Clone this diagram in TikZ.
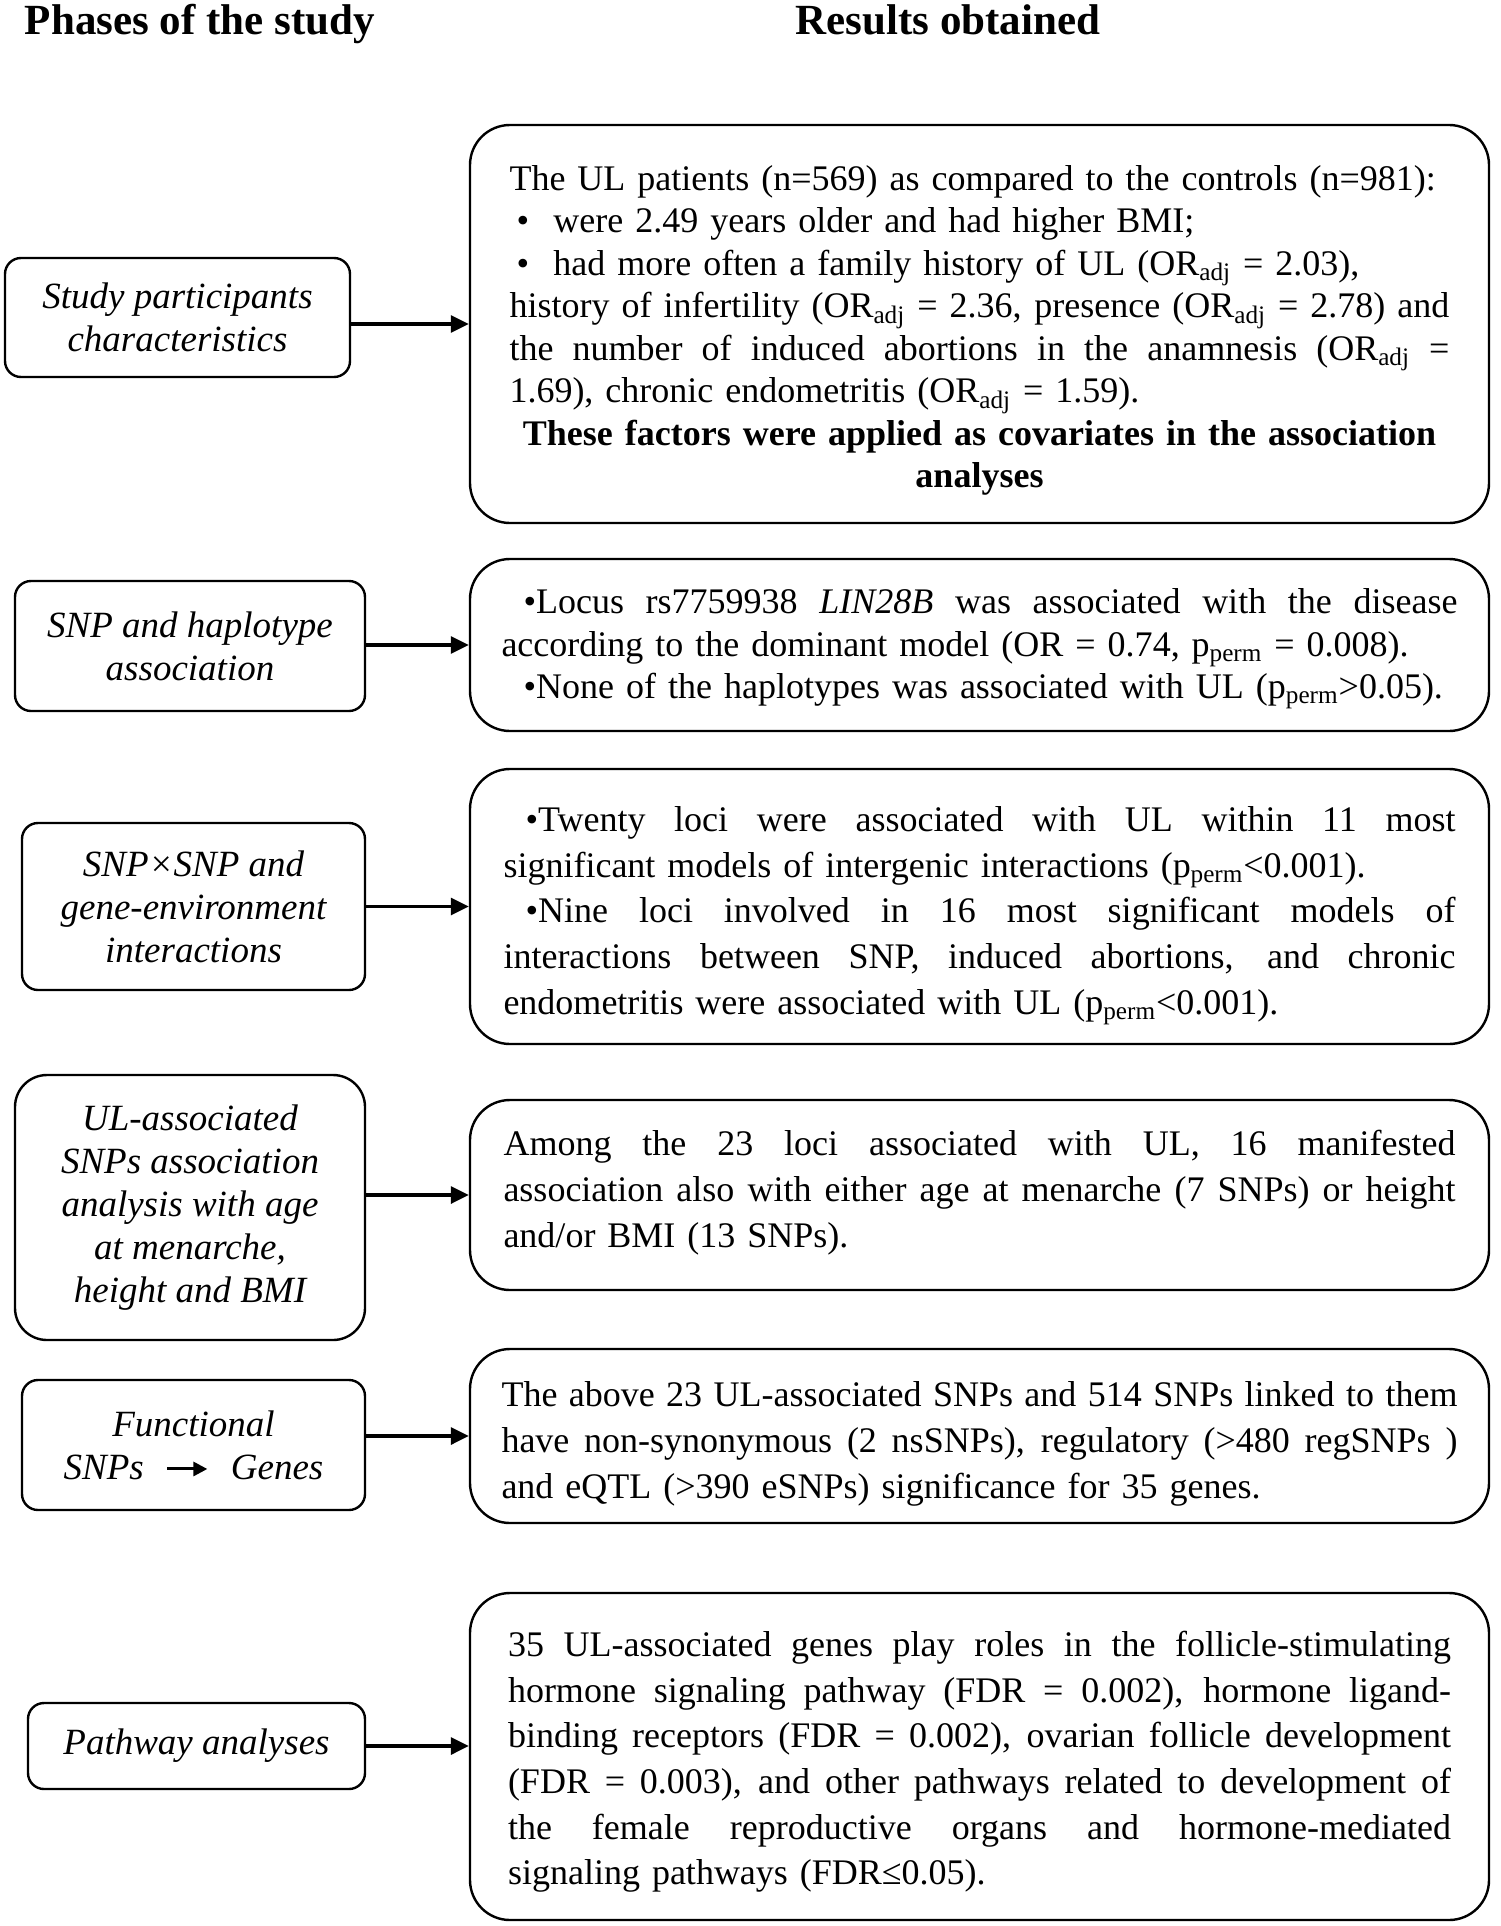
\documentclass[tikz,border=0pt]{standalone}
\usepackage{fontspec}
\setmainfont{Liberation Serif}
\usetikzlibrary{arrows.meta,positioning}
\newlength{\jw}
\tikzset{
  phase/.style={draw, line width=1.2pt, rounded corners=8pt, align=center, inner sep=0pt, font=\itshape\fontsize{18.5}{21.5}\selectfont},
  result/.style={draw, line width=1.2pt, rounded corners=20pt, align=left, inner sep=0pt, minimum width=509.5pt, font=\fontsize{18}{21.25}\selectfont},
  wide/.style={font=\fontsize{18}{22.85}\selectfont},
  resw/.style={text width=#1, execute at begin node={\setlength{\jw}{#1}}},
  head/.style={anchor=base, font=\bfseries\fontsize{21.5}{25}\selectfont},
  arrow/.style={-{Triangle[length=9pt,width=8.5pt]}, line width=1.6pt}
}
% justified line, bullet, subscripts, first-line strut
\newcommand{\jl}[1]{\makebox[\jw][s]{\spaceskip=0pt\xspaceskip=0pt #1}\\}
\newcommand{\bul}{\hspace*{11pt}\textbullet}
\newcommand{\adj}{\textsubscript{adj}}
\newcommand{\pperm}{p\textsubscript{perm}}
\newcommand{\up}[1]{\rule{0pt}{#1}}
\begin{document}
\begin{tikzpicture}[x=0.5pt, y=-0.5pt]
  \useasboundingbox (0,0) rectangle (1500,1926);
  % column titles
  \node[head] (phasetitle) at (200,35) {Phases of the study};
  \node[head] (resulttitle) at (948,35) {Results obtained};
  % phases of the study
  \node[phase, minimum width=172.5pt, minimum height=59.5pt] (participants) at (177.5,317.5) {Study participants\\characteristics};
  \node[phase, minimum width=175pt, minimum height=65pt] (haplo) at (190,646) {SNP and haplotype\\association};
  \node[phase, minimum width=171.5pt, minimum height=83.5pt] (interact) at (193.5,906.5) {SNP×SNP and\\gene-environment\\interactions};
  \node[phase, minimum width=175pt, minimum height=132.5pt, rounded corners=16pt] (menarche) at (190,1207.5) {UL-associated\\SNPs association\\analysis with age\\at menarche,\\height and BMI};
  \node[phase, minimum width=171.5pt, minimum height=65pt] (functional) at (193.5,1445) {Functional\\SNPs\hspace{11pt}\tikz[baseline=-0.6ex]\draw[-{Triangle[length=7pt,width=7pt]}, line width=1.5pt] (0pt,0pt) -- (20pt,0pt);\hspace{11pt}Genes};
  \node[phase, minimum width=168.5pt, minimum height=43pt] (pathway) at (196.5,1746) {Pathway analyses};
  % results obtained
  \node[result, resw=470pt, minimum height=199pt] (partres) at (979.5,324) {%
    \up{19pt}The UL patients (n=569) as compared to the controls (n=981):\\
    \hspace*{3.5pt}\makebox[18.5pt][l]{\textbullet}were 2.49 years older and had higher BMI;\\
    \hspace*{3.5pt}\makebox[18.5pt][l]{\textbullet}had more often a family history of UL (OR\adj{} = 2.03),\\
    \jl{history of infertility (OR\adj{} = 2.36, presence (OR\adj{} = 2.78) and}
    \jl{the number of induced abortions in the anamnesis (OR\adj{} =}
    1.69), chronic endometritis (OR\adj{} = 1.59).\\
    \makebox[\jw][c]{\bfseries These factors were applied as covariates in the association}\\
    \makebox[\jw][c]{\bfseries analyses}};
  \node[result, resw=478pt, minimum height=86pt] (haplores) at (979.5,645) {%
    \jl{\up{16.5pt}\bul Locus rs7759938 \textit{LIN28B} was associated with the disease}
    according to the dominant model (OR = 0.74, \pperm{} = 0.008).\\
    \bul None of the haplotypes was associated with UL (\pperm>0.05).};
  \node[result, wide, resw=476pt, minimum height=137.5pt] (interres) at (979.5,906.5) {%
    \jl{\up{21.5pt}\bul Twenty loci were associated with UL within 11 most}
    significant models of intergenic interactions (\pperm<0.001).\\
    \jl{\bul Nine loci involved in 16 most significant models of}
    \jl{interactions between SNP, induced abortions, and chronic}
    endometritis were associated with UL (\pperm<0.001).};
  \node[result, wide, resw=476pt, minimum height=95pt] (menres) at (979.5,1195) {%
    \jl{Among the 23 loci associated with UL, 16 manifested}
    \jl{association also with either age at menarche (7 SNPs) or height}
    and/or BMI (13 SNPs).\rule[-6.2pt]{0pt}{1pt}};
  \node[result, wide, resw=478pt, minimum height=87pt] (funcres) at (979.5,1436) {%
    \jl{\up{20.4pt}The above 23 UL-associated SNPs and 514 SNPs linked to them}
    \jl{have non-synonymous (2 nsSNPs), regulatory (>480 regSNPs )}
    and eQTL (>390 eSNPs) significance for 35 genes.};
  \node[result, wide, resw=471.5pt, minimum height=163.5pt] (pathres) at (979.5,1756.5) {%
    \jl{\up{18pt}35 UL-associated genes play roles in the follicle-stimulating}
    \jl{hormone signaling pathway (FDR = 0.002), hormone ligand-}
    \jl{binding receptors (FDR = 0.002), ovarian follicle development}
    \jl{(FDR = 0.003), and other pathways related to development of}
    \jl{the female reproductive organs and hormone-mediated}
    signaling pathways (FDR≤0.05).};
  % arrows
  \draw[arrow] (partres.west -| participants.east) -- (partres.west);
  \draw[arrow] (haplores.west -| haplo.east) -- (haplores.west);
  \draw[arrow] (interres.west -| interact.east) -- (interres.west);
  \draw[arrow] (menres.west -| menarche.east) -- (menres.west);
  \draw[arrow] (funcres.west -| functional.east) -- (funcres.west);
  \draw[arrow] (pathway.east) -- (pathway.east -| pathres.west);
\end{tikzpicture}
\end{document}
